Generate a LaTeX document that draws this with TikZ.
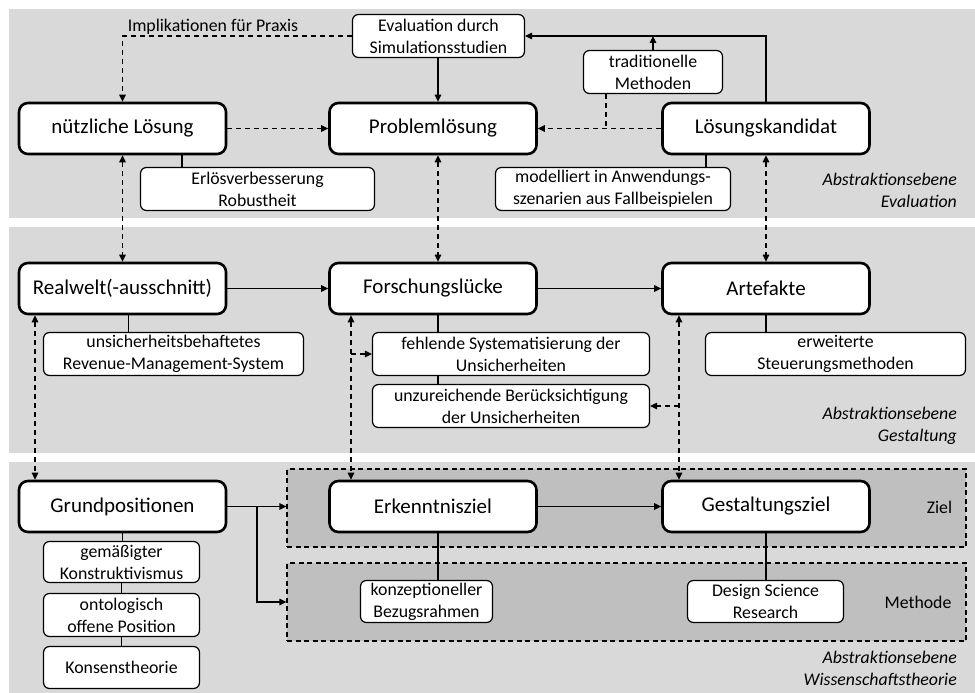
\documentclass[tikz,border=0pt]{standalone}
\usepackage{fontspec}
\setmainfont{Carlito}
\usetikzlibrary{arrows.meta}
\definecolor{bandgray}{RGB}{217,217,217}
\definecolor{groupgray}{RGB}{191,191,191}
\begin{document}
\begin{tikzpicture}[x=1pt,y=-1pt,
  mainbox/.style={draw, line width=2.6pt, rounded corners=9pt, fill=white,
    minimum width=207pt, minimum height=51pt, inner sep=0pt,
    font=\fontsize{21}{25}\selectfont},
  subbox/.style={draw, line width=1.2pt, rounded corners=6pt, fill=white,
    inner sep=0pt, align=center, font=\fontsize{17.8}{22}\selectfont},
  groupbox/.style={draw, line width=1.2pt, dash pattern=on 5pt off 3.5pt,
    fill=groupgray, inner sep=0pt},
  lbl/.style={inner sep=0pt, font=\fontsize{17.8}{22}\selectfont},
  levellbl/.style={inner sep=0pt, align=right, anchor=east,
    font=\fontsize{17.8}{22}\selectfont\itshape},
  conn/.style={line width=1.2pt},
  dconn/.style={line width=1.2pt, dash pattern=on 5pt off 4pt},
  arr/.style={-{Triangle[length=7pt,width=6.5pt]}},
  darr/.style={{Triangle[length=7pt,width=6.5pt]}-{Triangle[length=7pt,width=6.5pt]}}
]
\useasboundingbox (0,0) rectangle (975,693);

% abstraction levels
\fill[bandgray] (9,9) rectangle (975,218);
\fill[bandgray] (9,227) rectangle (975,453);
\fill[bandgray] (9,462) rectangle (975,693);

% groups in the lowest level
\node[groupbox, minimum width=679pt, minimum height=78pt] (ziel) at (626.5,508) {};
\node[groupbox, minimum width=679pt, minimum height=78pt] (meth) at (626.5,602) {};
\node[lbl] (ziellbl) at (939.5,507) {Ziel};
\node[lbl] (methlbl) at (918,602) {Methode};

% level labels
\node[levellbl] (lev1) at (957,190) {Abstraktionsebene\\Evaluation};
\node[levellbl] (lev2) at (957,425.5) {Abstraktionsebene\\Gestaltung};
\node[levellbl] (lev3) at (957,668) {Abstraktionsebene\\Wissenschaftstheorie};

% main boxes
\node[mainbox] (nl) at (122.5,128.5) {nützliche Lösung};
\node[mainbox] (pl) at (433,128.5) {Problemlösung};
\node[mainbox] (lk) at (766,128.5) {Lösungskandidat};
\node[mainbox] (rw) at (122.5,288.5) {Realwelt(-ausschnitt)};
\node[mainbox] (fl) at (433,288.5) {Forschungslücke};
\node[mainbox] (af) at (766,288.5) {Artefakte};
\node[mainbox] (gp) at (122.5,506.5) {Grundpositionen};
\node[mainbox] (ez) at (433,506.5) {Erkenntnisziel};
\node[mainbox] (gz) at (766,506.5) {Gestaltungsziel};

% detail boxes
\node[subbox, minimum width=172pt, minimum height=43pt] (ev) at (438.5,36) {Evaluation durch\\Simulationsstudien};
\node[subbox, minimum width=139pt, minimum height=43pt] (tm) at (653,72) {traditionelle\\Methoden};
\node[subbox, minimum width=234pt, minimum height=43pt] (eb) at (257.5,189) {Erlösverbesserung\\Robustheit};
\node[subbox, minimum width=235pt, minimum height=43pt] (mo) at (613,189) {modelliert in Anwendungs-\\szenarien aus Fallbeispielen};
\node[subbox, minimum width=260pt, minimum height=43pt] (us) at (173.5,354) {unsicherheitsbehaftetes\\Revenue-Management-System};
\node[subbox, minimum width=277pt, minimum height=43pt] (fs) at (511,354) {fehlende Systematisierung der\\Unsicherheiten};
\node[subbox, minimum width=277pt, minimum height=43pt] (uz) at (511,406) {unzureichende Berücksichtigung\\der Unsicherheiten};
\node[subbox, minimum width=260pt, minimum height=43pt] (ew) at (835.5,354) {erweiterte\\Steuerungsmethoden};
\node[subbox, minimum width=156pt, minimum height=41pt] (gk) at (121.5,562) {gemäßigter\\Konstruktivismus};
\node[subbox, minimum width=156pt, minimum height=43pt] (op) at (121.5,615) {ontologisch\\offene Position};
\node[subbox, minimum width=156pt, minimum height=42pt] (kt) at (121.5,667.5) {Konsenstheorie};
\node[subbox, minimum width=132pt, minimum height=42pt] (kb) at (426.5,601.5) {konzeptioneller\\Bezugsrahmen};
\node[subbox, minimum width=156pt, minimum height=42pt] (ds) at (765.5,601.5) {Design Science\\Research};

% vertical line positions
\coordinate (x35) at (35,0);
\coordinate (x122) at (122.5,0);
\coordinate (x128) at (128.5,0);
\coordinate (x182) at (182,0);
\coordinate (x257) at (257,0);
\coordinate (x351) at (351,0);
\coordinate (x438) at (438,0);
\coordinate (x606) at (606,0);
\coordinate (x679) at (679,0);
\coordinate (x706) at (706,0);
\coordinate (x766) at (766,0);

% evaluation level
\node[lbl] (impl) at (213,27) {Implikationen für Praxis};
\draw[dconn, arr] (ev.west) -| (nl.north);
\draw[conn, arr] (ev.south -| x438) -- (pl.north -| x438);
\draw[dconn, arr] (nl.east) -- (pl.west);
\draw[dconn, arr] (lk.west) -- (pl.east);
\draw[dconn] (tm.south -| x606) -- (pl.east -| x606);
\draw[conn, arr] (lk.north) |- (ev.east);
\draw[conn, arr] (tm.north) -- (tm.north |- ev.east);
\draw[conn] (nl.south -| x182) -- (eb.north -| x182);
\draw[conn] (lk.south -| x706) -- (mo.north -| x706);

% links between evaluation and design level
\draw[dconn, darr] (nl.south -| x122) -- (rw.north -| x122);
\draw[dconn, darr] (pl.south -| x438) -- (fl.north -| x438);
\draw[dconn, darr] (lk.south -| x766) -- (af.north -| x766);

% design level
\draw[conn, arr] (rw.east) -- (fl.west);
\draw[conn, arr] (fl.east) -- (af.west);
\draw[conn] (rw.south -| x128) -- (us.north -| x128);
\draw[conn] (fl.south -| x438) -- (fs.north -| x438);
\draw[conn] (fs.south -| x438) -- (uz.north -| x438);
\draw[conn] (af.south -| x766) -- (ew.north -| x766);

% links between design and theory level
\draw[dconn, darr] (rw.south -| x35) -- (gp.north -| x35);
\draw[dconn, darr] (fl.south -| x351) -- (ez.north -| x351);
\draw[dconn, darr] (af.south -| x679) -- (gz.north -| x679);
\draw[dconn, arr] (fs.west -| x351) -- (fs.west);
\draw[dconn, arr] (uz.east -| x679) -- (uz.east);

% theory level
\draw[conn, arr] (gp.east) -- (gp.east -| ziel.west);
\draw[conn, arr] (gp.east -| x257) |- (meth.west);
\draw[conn, arr] (ez.east) -- (gz.west);
\draw[conn] (gp.south -| x122) -- (gk.north -| x122);
\draw[conn] (gk.south) -- (op.north);
\draw[conn] (op.south) -- (kt.north);
\draw[conn] (ez.south -| x438) -- (kb.north -| x438);
\draw[conn] (gz.south -| x766) -- (ds.north -| x766);
\end{tikzpicture}
\end{document}
